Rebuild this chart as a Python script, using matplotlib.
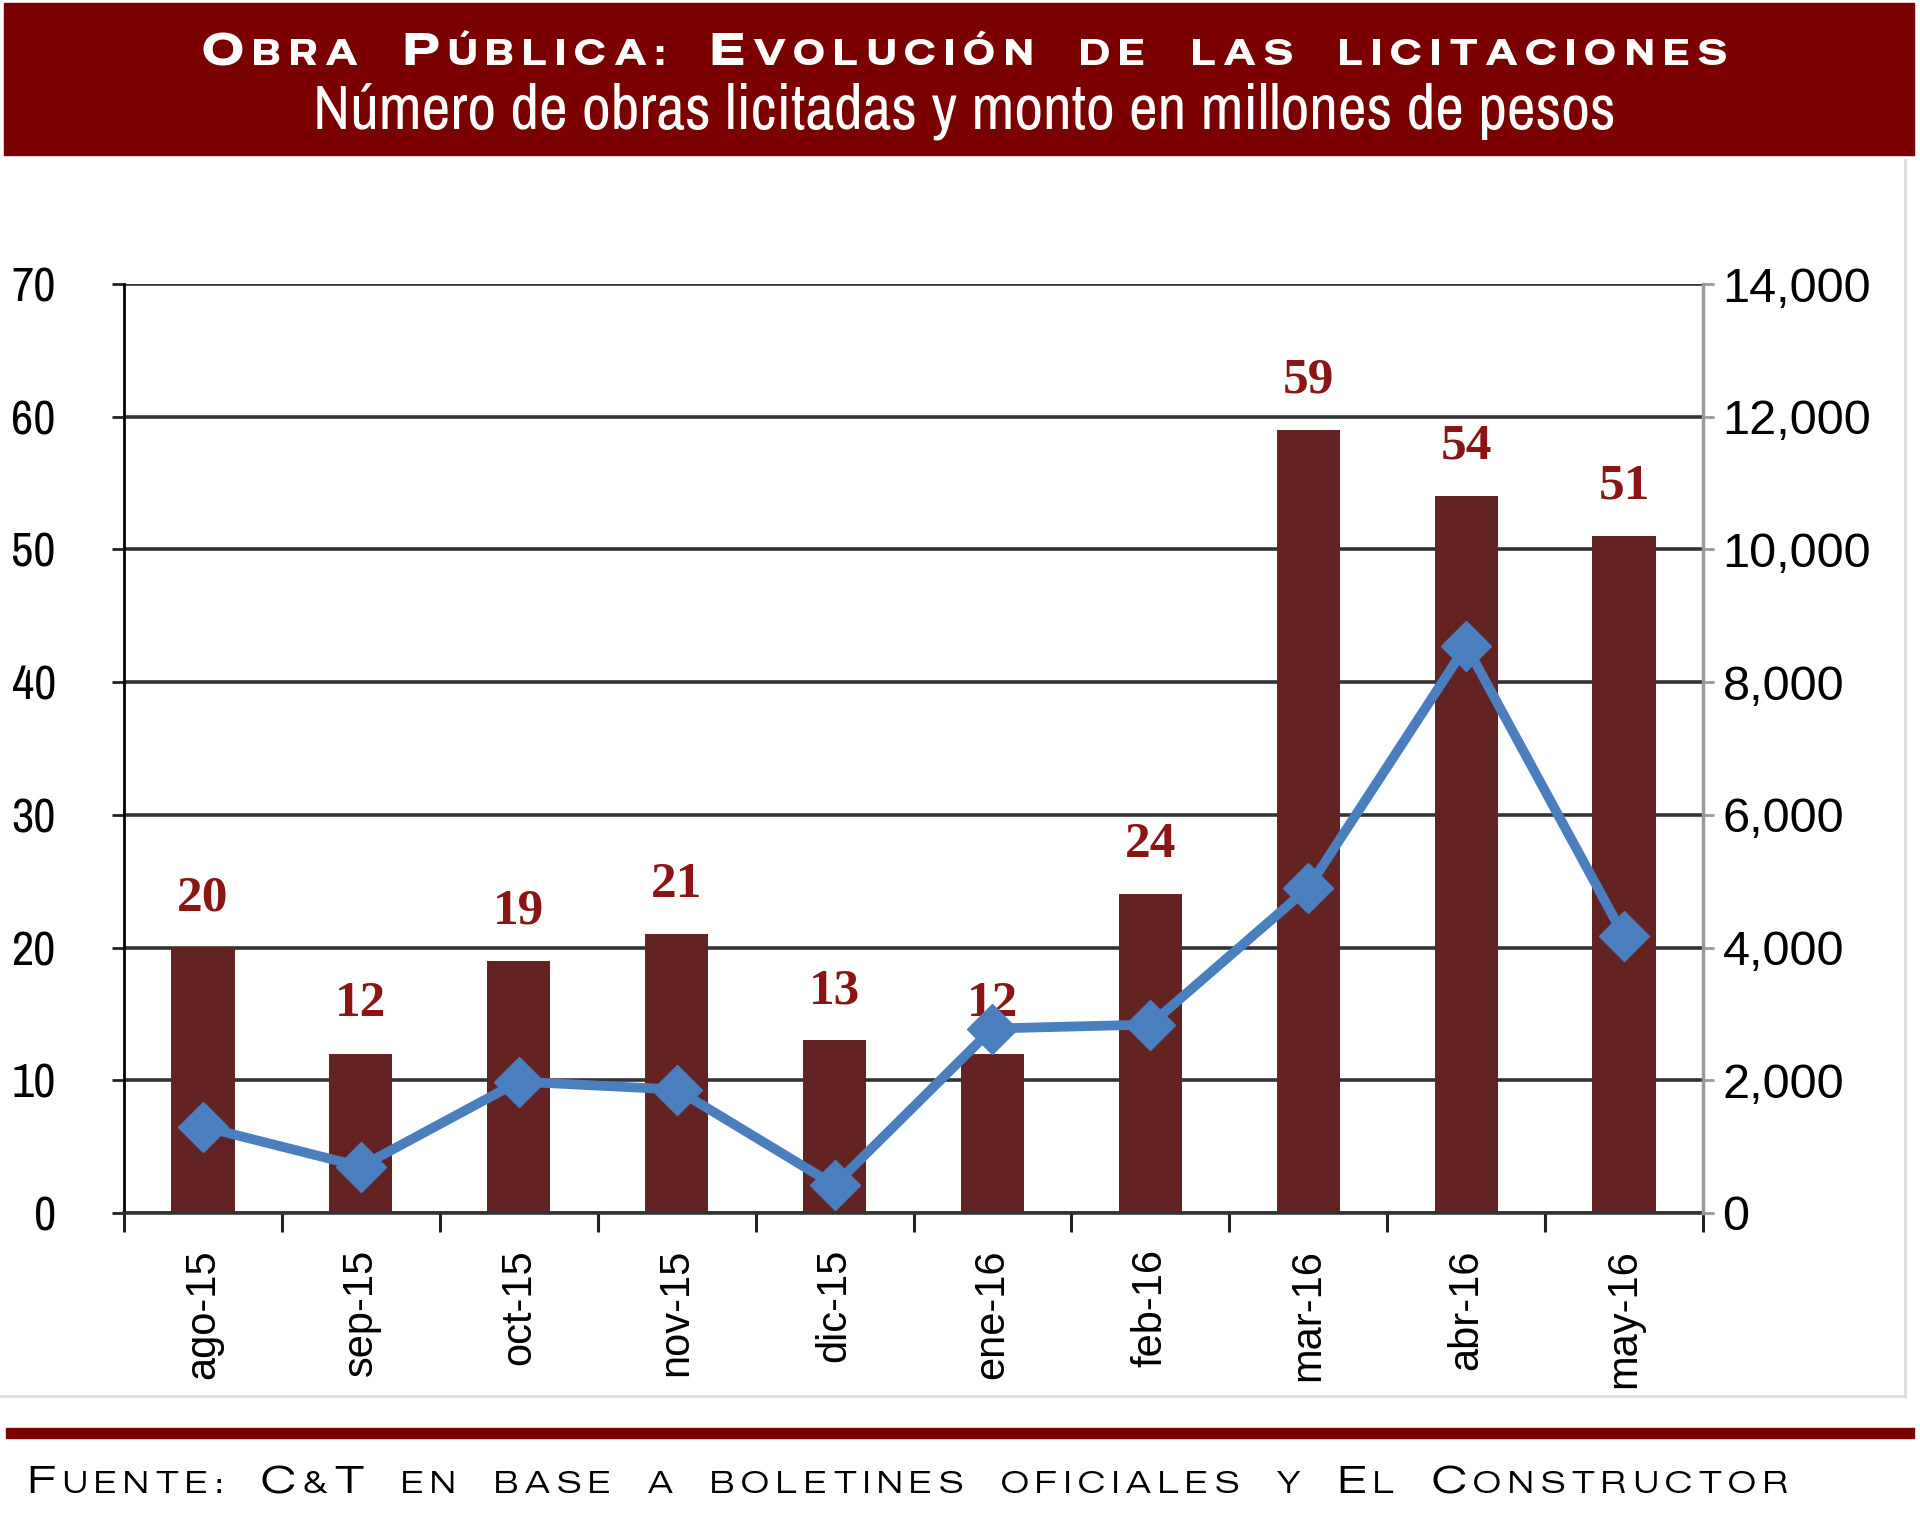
import matplotlib
matplotlib.use("Agg")
import matplotlib.pyplot as plt
from matplotlib.patches import Rectangle
from matplotlib.lines import Line2D
from matplotlib.ticker import FuncFormatter, FixedLocator

months = ["ago-15", "sep-15", "oct-15", "nov-15", "dic-15",
          "ene-16", "feb-16", "mar-16", "abr-16", "may-16"]
obras = [20, 12, 19, 21, 13, 12, 24, 59, 54, 51]
monto = [1300, 700, 1980, 1860, 420, 2780, 2840, 4900, 8550, 4170]

title = "Obra Pública: Evolución de las licitaciones"
subtitle = "Número de obras licitadas y monto en millones de pesos"
source = "Fuente: C&T en base a boletines oficiales y El Constructor"

BAR = "#632323"
LABEL = "#8B1414"
BLUE = "#4A7EBF"
BAND = "#7B0000"
NARROW = ["Archivo Narrow", "PT Sans Narrow", "Liberation Sans", "DejaVu Sans"]
ARIAL = ["Liberation Sans", "DejaVu Sans"]
HEAVY_WIDE = ["Special Gothic Expanded One", "Encode Sans Expanded", "DejaVu Sans"]
WIDE = ["Zalando Sans Expanded", "Encode Sans Expanded", "DejaVu Sans"]

fig = plt.figure(figsize=(19.2, 15.15), dpi=100)
W, H = 1920, 1515
renderer = fig.canvas.get_renderer()

# header band, footer rule and the light frame round the chart
fig.patches.append(Rectangle((0.002, 1 - 155 / H), 0.995, 152 / H,
                             transform=fig.transFigure, color=BAND, zorder=0))
fig.patches.append(Rectangle((0.003, 1 - 1438 / H), 0.994, 10 / H,
                             transform=fig.transFigure, color=BAND, zorder=0))
fig.lines.append(Line2D([0.0, 0.992], [1 - 1396 / H] * 2, transform=fig.transFigure,
                        color="#dddddd", lw=2))
fig.lines.append(Line2D([0.992, 0.992], [1 - 1396 / H, 1 - 160 / H],
                        transform=fig.transFigure, color="#dddddd", lw=2))


def small_caps(text, x0, y, big, small, color, weight, family, width_px, align="center"):
    # fake small caps: capitals stay big, lowercase become smaller capitals;
    # letter spacing is adjusted so the line spans width_px
    words = []
    for word in text.split(" "):
        objs = []
        for ch in word:
            size = big if ch.isupper() else small
            t = fig.text(0, y, ch.upper(), fontsize=size, color=color, weight=weight,
                         family=family, va="baseline", ha="left")
            objs.append([t, t.get_window_extent(renderer).width])
        words.append(objs)
    gap = 1.0 * big * 100 / 72
    n_track = sum(len(objs) - 1 for objs in words)
    letters = sum(w for objs in words for _, w in objs)
    room = width_px - gap * (len(words) - 1)
    if room - letters < 3 * n_track:
        # letters too wide: shrink them instead of overlapping
        f = (room - 3 * n_track) / letters
        for objs in words:
            for o in objs:
                o[0].set_fontsize(o[0].get_fontsize() * f)
                o[1] *= f
        letters *= f
    track = (room - letters) / n_track
    x = x0 - width_px / 2 if align == "center" else x0
    for objs in words:
        for t, w in objs:
            t.set_x(x / W)
            x += w + track
        x += gap - track


small_caps(title, 964, 1 - 65 / H, 33, 25, "white", "bold", HEAVY_WIDE, 1525)
sub = fig.text(964 / W, 1 - 128 / H, subtitle, fontsize=40, color="white",
               family=NARROW, ha="center", va="baseline")
sub.set_fontsize(40 * 1304 / sub.get_window_extent(renderer).width)
small_caps(source, 27, 1 - 1493 / H, 27, 21, "black", "semibold", WIDE, 1761,
           align="left")

ax = fig.add_axes([124 / W, 1 - 1213 / H, (1703 - 124) / W, (1213 - 284) / H])
x = range(len(months))
bars = ax.bar(x, obras, width=0.4, color=BAR, zorder=2)
ax.bar_label(bars, padding=19, fontsize=37, color=LABEL, weight="bold",
             family=["Liberation Serif", "DejaVu Serif"])

ax.set_xlim(-0.5, len(months) - 0.5)
ax.set_ylim(0, 70)
ax.set_yticks(range(0, 71, 10))
ax.yaxis.grid(True, color="#333333", lw=2.6)
ax.set_axisbelow(True)
ax.set_xticks(list(x))
ax.set_xticklabels(months, rotation=90, fontsize=30, family=ARIAL, va="top")
ax.xaxis.set_minor_locator(FixedLocator([i - 0.5 for i in range(len(months) + 1)]))
ax.tick_params(axis="x", which="major", length=0, pad=26)
ax.tick_params(axis="x", which="minor", length=14, width=2.2, color="#222222")
ax.tick_params(axis="y", length=9, width=2, pad=40, labelsize=35, color="#222222")
for lab in ax.get_yticklabels():
    lab.set_family(NARROW)
ax.spines["top"].set_visible(False)
ax.spines["right"].set_visible(False)
ax.spines["left"].set_linewidth(2)
ax.spines["bottom"].set_linewidth(2.6)
ax.spines["bottom"].set_color("#333333")

ax2 = ax.twinx()
ax2.plot(x, monto, color=BLUE, lw=7, marker="D", ms=25, zorder=3)
ax2.set_ylim(0, 14000)
ax2.set_yticks(range(0, 14001, 2000))
ax2.yaxis.set_major_formatter(FuncFormatter(lambda v, p: f"{int(v):,}"))
ax2.tick_params(axis="y", length=8, width=2, pad=6, labelsize=35, color="#999999")
for lab in ax2.get_yticklabels():
    lab.set_family(ARIAL)
for s in ["top", "left", "bottom"]:
    ax2.spines[s].set_visible(False)
ax2.spines["right"].set_color("#999999")
ax2.spines["right"].set_linewidth(2.5)

fig.savefig("out.png", dpi=100)
